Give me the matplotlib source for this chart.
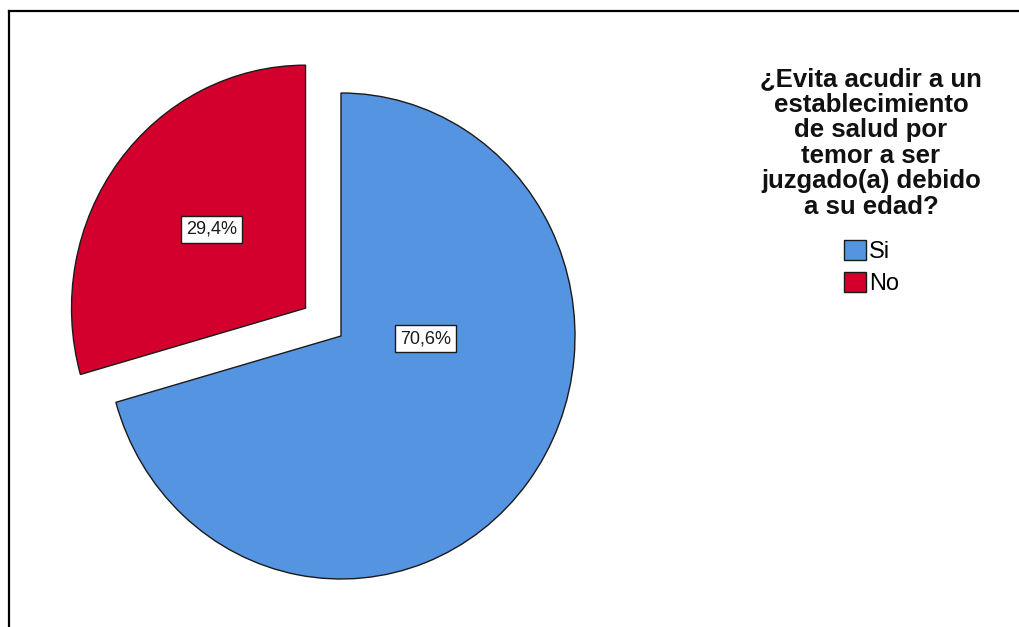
import matplotlib.pyplot as plt
from matplotlib.lines import Line2D

plt.rcParams['font.family'] = ['Liberation Sans', 'DejaVu Sans']

# Data
categories = ['Si', 'No']
percentages = [70.6, 29.4]
colors = ['#5594E1', '#D3002D']
title = '¿Evita acudir a un\nestablecimiento\nde salud por\ntemor a ser\njuzgado(a) debido\na su edad?'

W, H = 1020, 627
fig = plt.figure(figsize=(W / 100, H / 100), dpi=100)
ax = fig.add_axes([0, 0, 1, 1])

# pie centre and radii in pixels (slightly wider vertically than horizontally)
cx, cy, rx, ry = 341, 336, 234, 243

wedges, texts, autotexts = ax.pie(
    percentages,
    colors=colors,
    startangle=90,
    counterclock=False,
    explode=[0, 0.19],
    autopct=lambda p: f'{p:.1f}'.replace('.', ',') + '%',
    wedgeprops=dict(edgecolor='#1a1a1a', linewidth=1.0),
    textprops=dict(fontsize=13, color='#1a1a1a'),
)

# label spots inside each slice
label_pos = [(0.363, -0.012), (-0.553, 0.44)]
for t, (x, y) in zip(autotexts, label_pos):
    t.set_position((x, y))
    t.set_ha('center')
    t.set_va('center')
    t.set_bbox(dict(facecolor='white', edgecolor='#1a1a1a', linewidth=1.0,
                    boxstyle='square,pad=0.28'))

ax.set_aspect('auto')
ax.set_xlim(-cx / rx, (W - cx) / rx)
ax.set_ylim((cy - H) / ry, cy / ry)
ax.axis('off')

# legend title and entries
fig.text(871 / W, 1 - 67 / H, title, ha='center', va='top',
         fontsize=18.5, fontweight='bold', linespacing=1.08, color='#111111')
fig.legend(wedges, categories, loc='upper left',
           bbox_to_anchor=(844 / W, 1 - 240 / H), bbox_transform=fig.transFigure,
           frameon=False, fontsize=17, handlelength=0.95, handleheight=0.95,
           handletextpad=0.12, labelspacing=0.35, borderpad=0, borderaxespad=0)

# outer frame (top and left edges)
fig.add_artist(Line2D([9 / W, 1], [1 - 11 / H, 1 - 11 / H], color='black', linewidth=1.6))
fig.add_artist(Line2D([9 / W, 9 / W], [0, 1 - 11 / H], color='black', linewidth=1.6))

fig.savefig('out.png', dpi=100)
